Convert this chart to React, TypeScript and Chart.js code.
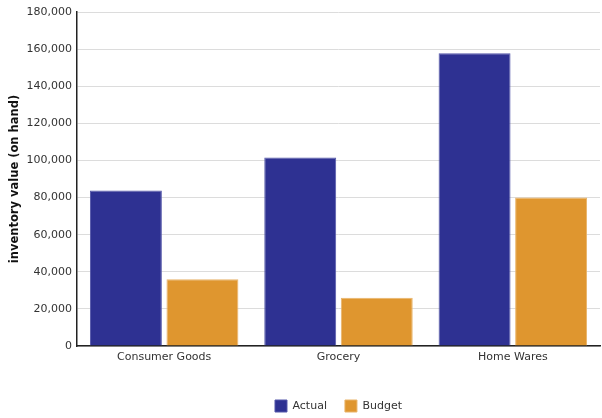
import React, { useEffect, useRef } from "react";
import { Chart, registerables } from "chart.js";

Chart.register(...registerables);

const categories = ["Consumer Goods", "Grocery", "Home Wares"];
const actualValues = [83800, 101600, 157800];
const budgetValues = [36000, 26000, 80000];
const seriesNames = ["Actual", "Budget"];
const yTitle = "inventory value (on hand)";

export default function App() {
  const ref = useRef<HTMLCanvasElement | null>(null);
  useEffect(() => {
    document.body.style.margin = "0";
    const ctx = ref.current!;
    const font = "'DejaVu Sans', Verdana, sans-serif";
    const chart = new Chart(ctx, {
      type: "bar",
      data: {
        labels: categories,
        datasets: [
          {
            label: seriesNames[0],
            data: actualValues,
            backgroundColor: "#2E3192",
            borderColor: "#5558aa",
            borderWidth: 1,
            categoryPercentage: 0.878,
            barPercentage: 0.94,
          },
          {
            label: seriesNames[1],
            data: budgetValues,
            backgroundColor: "#DF962F",
            borderColor: "#e9b46a",
            borderWidth: 1,
            categoryPercentage: 0.878,
            barPercentage: 0.94,
          },
        ],
      },
      options: {
        animation: false,
        responsive: false,
        maintainAspectRatio: false,
        layout: { padding: { top: 12, right: 2, left: 8, bottom: -4 } },
        plugins: {
          tooltip: { enabled: false },
          legend: {
            position: "bottom",
            fullSize: false,
            labels: {
              boxWidth: 12,
              boxHeight: 12,
              padding: 18,
              color: "#333",
              font: { family: font, size: 11 },
            },
          },
        },
        scales: {
          x: {
            grid: { display: false, drawTicks: false },
            border: { display: true, color: "#222", width: 1.5 },
            ticks: { color: "#333", font: { family: font, size: 11 }, padding: 5 },
            afterFit: (s: any) => {
              s.height = 36;
            },
          },
          y: {
            min: 0,
            max: 180000,
            grid: { color: "#dcdcdc", drawTicks: false },
            border: { display: true, color: "#222", width: 1.5 },
            ticks: {
              stepSize: 20000,
              color: "#333",
              padding: 5,
              font: { family: font, size: 11 },
              callback: (v: any) => Number(v).toLocaleString("en-US"),
            },
            title: {
              display: true,
              text: yTitle,
              color: "#111",
              font: { family: font, size: 11.5, weight: "bold" },
              padding: { top: 0, bottom: 4 },
            },
            afterFit: (s: any) => {
              s.width = 69;
            },
          },
        },
      },
    });
    return () => chart.destroy();
  }, []);
  return (
    <div style={{ width: 602, height: 418 }}>
      <canvas ref={ref} width={602} height={418} style={{ display: "block" }} />
    </div>
  );
}
